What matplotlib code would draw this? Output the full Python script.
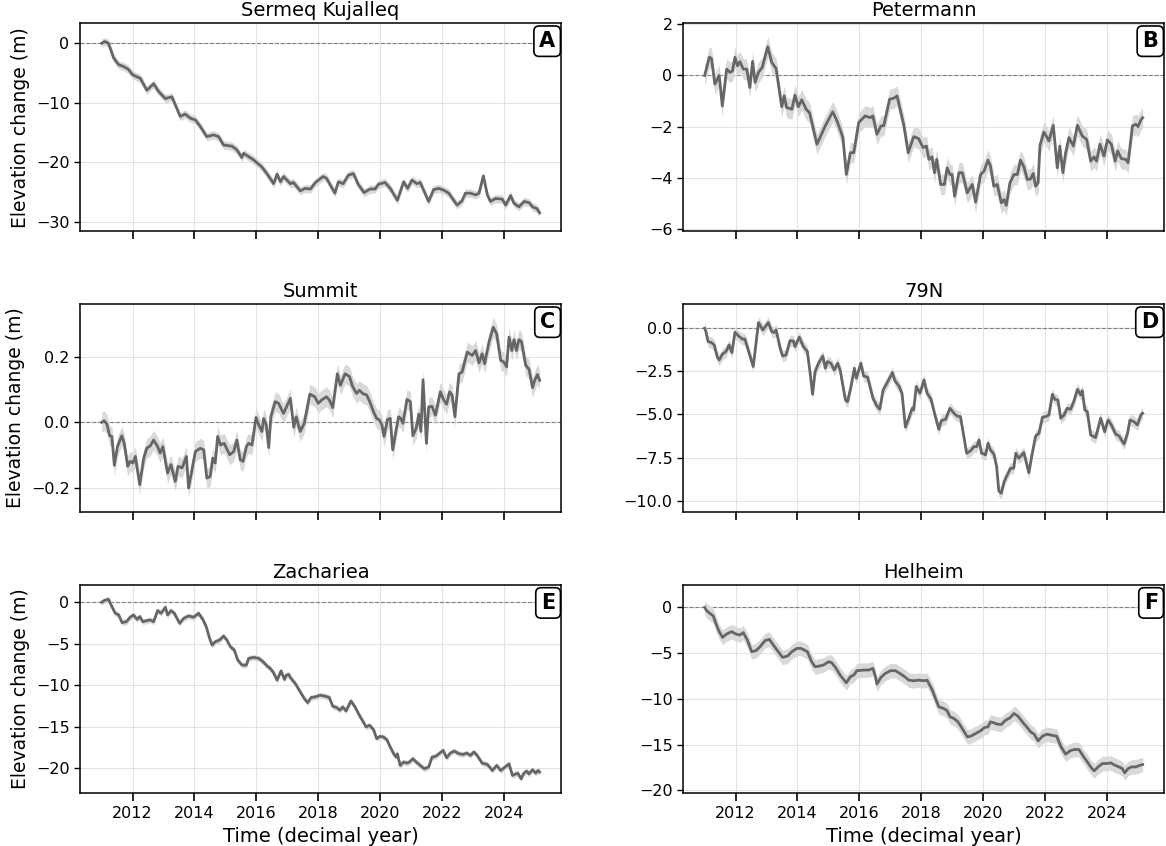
import matplotlib
matplotlib.use("Agg")
import matplotlib.pyplot as plt
import numpy as np

# ---------------- data ----------------
titles = ["Sermeq Kujalleq", "Petermann", "Summit", "79N", "Zachariea", "Helheim"]
letters = ["A", "B", "C", "D", "E", "F"]

t_a = [2011.0, 2011.1, 2011.22, 2011.39, 2011.55, 2011.71, 2011.87, 2012.0, 2012.25, 2012.46,
       2012.68, 2012.84, 2013.06, 2013.27, 2013.54, 2013.7, 2013.87, 2014.03, 2014.19, 2014.4,
       2014.62, 2014.78, 2014.94, 2015.21, 2015.37, 2015.53, 2015.59, 2015.91, 2016.18, 2016.34,
       2016.56, 2016.67, 2016.78, 2016.88, 2017.1, 2017.2, 2017.42, 2017.58, 2017.75, 2017.91,
       2018.16, 2018.27, 2018.54, 2018.65, 2018.81, 2018.97, 2019.14, 2019.3, 2019.35, 2019.48,
       2019.68, 2019.84, 2019.95, 2020.16, 2020.33, 2020.56, 2020.76, 2020.89, 2021.03, 2021.19,
       2021.3, 2021.57, 2021.73, 2021.9, 2022.06, 2022.22, 2022.49, 2022.65, 2022.76, 2022.92,
       2023.09, 2023.2, 2023.34, 2023.47, 2023.57, 2023.73, 2023.95, 2024.06, 2024.22, 2024.33,
       2024.49, 2024.66, 2024.82, 2024.93, 2025.07, 2025.16]
v_a = [0.0, 0.3, 0.0, -2.5, -3.6, -3.9, -4.4, -5.3, -5.9, -7.9,
       -6.8, -8.1, -9.3, -9.0, -12.3, -11.9, -12.6, -12.9, -14.0, -15.7,
       -15.4, -15.7, -17.1, -17.3, -17.9, -19.2, -18.5, -19.6, -20.8, -21.9,
       -23.6, -22.0, -23.3, -22.4, -23.6, -23.4, -24.8, -24.4, -24.5, -23.4,
       -22.4, -22.7, -25.2, -23.3, -23.6, -22.2, -21.9, -23.8, -24.1, -25.1,
       -24.5, -24.5, -23.7, -23.4, -24.4, -26.4, -23.3, -24.4, -23.0, -23.6,
       -23.4, -26.6, -24.6, -24.4, -24.7, -25.2, -27.2, -26.5, -25.2, -25.2,
       -25.5, -25.2, -22.3, -25.5, -26.6, -26.1, -26.2, -27.2, -25.6, -26.9,
       -27.5, -26.6, -26.8, -27.5, -27.8, -28.5]

t_b = [2011.0, 2011.15, 2011.22, 2011.33, 2011.47, 2011.57, 2011.71, 2011.82, 2011.9, 2011.98,
       2012.06, 2012.14, 2012.25, 2012.36, 2012.46, 2012.55, 2012.63, 2012.74, 2012.86, 2013.04,
       2013.17, 2013.31, 2013.36, 2013.49, 2013.57, 2013.65, 2013.82, 2013.92, 2014.03, 2014.14,
       2014.28, 2014.39, 2014.63, 2014.9, 2015.14, 2015.28, 2015.47, 2015.58, 2015.71, 2015.82,
       2015.98, 2016.19, 2016.36, 2016.44, 2016.57, 2016.7, 2016.79, 2016.98, 2017.11, 2017.22,
       2017.44, 2017.58, 2017.76, 2017.92, 2018.06, 2018.17, 2018.25, 2018.35, 2018.43, 2018.5,
       2018.63, 2018.75, 2018.84, 2018.93, 2019.0, 2019.08, 2019.22, 2019.33, 2019.49, 2019.65,
       2019.76, 2019.92, 2020.03, 2020.16, 2020.24, 2020.35, 2020.46, 2020.59, 2020.68, 2020.75,
       2020.87, 2021.0, 2021.11, 2021.21, 2021.32, 2021.43, 2021.54, 2021.62, 2021.7, 2021.78,
       2021.84, 2021.97, 2022.13, 2022.27, 2022.4, 2022.48, 2022.58, 2022.67, 2022.78, 2022.92,
       2023.05, 2023.21, 2023.35, 2023.48, 2023.59, 2023.67, 2023.78, 2023.91, 2024.02, 2024.15,
       2024.27, 2024.35, 2024.47, 2024.61, 2024.69, 2024.83, 2024.94, 2025.01, 2025.1, 2025.16]
v_b = [0.0, 0.71, 0.67, -0.34, 0.0, -1.19, 0.25, 0.12, 0.18, 0.71,
       0.38, 0.54, 0.25, 0.25, -0.47, 0.55, -0.27, 0.12, 0.31, 1.12,
       0.51, 0.27, -0.14, -1.22, -0.8, -1.25, -1.32, -0.77, -1.22, -0.95,
       -1.32, -1.45, -2.69, -1.97, -1.42, -1.78, -2.43, -3.87, -3.02, -3.02,
       -1.84, -1.58, -1.65, -1.58, -2.3, -1.97, -1.97, -0.93, -0.89, -0.8,
       -1.95, -3.02, -2.39, -2.47, -2.82, -2.76, -3.28, -3.18, -3.8, -3.28,
       -4.26, -4.26, -3.61, -3.87, -3.87, -4.72, -3.8, -3.8, -4.59, -4.26,
       -4.95, -3.87, -3.74, -3.31, -3.54, -4.33, -4.26, -4.98, -4.85, -5.08,
       -4.2, -3.87, -3.87, -3.31, -3.57, -4.07, -4.04, -3.83, -4.33, -4.2,
       -2.73, -2.21, -2.56, -1.95, -3.61, -2.76, -3.8, -3.02, -2.43, -2.76,
       -1.95, -2.37, -2.5, -3.35, -3.18, -3.35, -2.69, -3.15, -2.52, -2.69,
       -3.35, -2.95, -3.25, -3.28, -3.41, -1.97, -1.91, -2.0, -1.75, -1.65]

t_c = [2011.0, 2011.08, 2011.17, 2011.26, 2011.33, 2011.41, 2011.51, 2011.65, 2011.73, 2011.84,
       2011.92, 2012.01, 2012.09, 2012.23, 2012.36, 2012.46, 2012.57, 2012.68, 2012.81, 2012.89,
       2012.98, 2013.13, 2013.24, 2013.38, 2013.47, 2013.6, 2013.74, 2013.81, 2013.9, 2014.03,
       2014.19, 2014.3, 2014.4, 2014.51, 2014.59, 2014.67, 2014.75, 2014.84, 2014.96, 2015.14,
       2015.27, 2015.37, 2015.48, 2015.57, 2015.68, 2015.75, 2015.86, 2015.99, 2016.08, 2016.18,
       2016.24, 2016.32, 2016.4, 2016.47, 2016.61, 2016.72, 2016.88, 2017.1, 2017.21, 2017.29,
       2017.42, 2017.55, 2017.73, 2017.89, 2018.0, 2018.11, 2018.27, 2018.36, 2018.47, 2018.62,
       2018.72, 2018.87, 2019.01, 2019.11, 2019.24, 2019.33, 2019.44, 2019.57, 2019.68, 2019.79,
       2019.89, 2019.98, 2020.06, 2020.13, 2020.24, 2020.33, 2020.41, 2020.52, 2020.6, 2020.67,
       2020.74, 2020.87, 2020.98, 2021.06, 2021.17, 2021.25, 2021.32, 2021.39, 2021.5, 2021.57,
       2021.68, 2021.79, 2021.95, 2022.06, 2022.15, 2022.25, 2022.33, 2022.42, 2022.55, 2022.65,
       2022.82, 2022.98, 2023.09, 2023.2, 2023.3, 2023.38, 2023.52, 2023.66, 2023.77, 2023.9,
       2024.0, 2024.09, 2024.17, 2024.26, 2024.33, 2024.41, 2024.49, 2024.57, 2024.71, 2024.82,
       2024.93, 2025.0, 2025.09, 2025.16]
v_c = [0.0, 0.005, -0.005, -0.041, -0.043, -0.131, -0.074, -0.041, -0.064, -0.134,
       -0.119, -0.124, -0.104, -0.19, -0.109, -0.079, -0.072, -0.054, -0.074, -0.094,
       -0.074, -0.155, -0.129, -0.18, -0.134, -0.139, -0.104, -0.2, -0.155, -0.089,
       -0.079, -0.084, -0.17, -0.165, -0.109, -0.124, -0.043, -0.069, -0.064, -0.099,
       -0.089, -0.054, -0.114, -0.119, -0.074, -0.064, -0.069, 0.015, -0.008, -0.028,
       0.012, -0.008, -0.077, 0.017, 0.063, 0.058, 0.027, 0.073, -0.015, 0.017,
       -0.028, -0.003, 0.086, 0.078, 0.058, 0.068, 0.078, 0.068, 0.045, 0.148,
       0.113, 0.148, 0.14, 0.11, 0.088, 0.098, 0.088, 0.083, 0.06, 0.032,
       0.012, 0.007, -0.008, -0.043, 0.009, 0.012, -0.084, -0.023, 0.017, 0.012,
       -0.003, 0.07, 0.063, -0.041, -0.018, 0.025, -0.028, 0.13, -0.064, 0.047,
       0.049, 0.022, 0.093, 0.068, 0.055, 0.093, 0.083, 0.017, 0.148, 0.153,
       0.214, 0.204, 0.219, 0.181, 0.209, 0.179, 0.244, 0.29, 0.27, 0.189,
       0.184, 0.169, 0.26, 0.219, 0.252, 0.219, 0.252, 0.247, 0.174, 0.161,
       0.106, 0.128, 0.146, 0.128]

t_d = [2011.0, 2011.04, 2011.11, 2011.22, 2011.31, 2011.41, 2011.47, 2011.58, 2011.69, 2011.79,
       2011.88, 2011.98, 2012.09, 2012.23, 2012.3, 2012.44, 2012.57, 2012.74, 2012.88, 2013.06,
       2013.17, 2013.24, 2013.31, 2013.44, 2013.52, 2013.63, 2013.76, 2013.87, 2013.92, 2014.06,
       2014.19, 2014.32, 2014.41, 2014.49, 2014.57, 2014.68, 2014.82, 2014.9, 2014.97, 2015.08,
       2015.19, 2015.3, 2015.38, 2015.55, 2015.62, 2015.73, 2015.84, 2015.9, 2016.05, 2016.14,
       2016.27, 2016.36, 2016.44, 2016.57, 2016.66, 2016.77, 2016.92, 2017.07, 2017.15, 2017.28,
       2017.38, 2017.49, 2017.6, 2017.71, 2017.76, 2017.84, 2017.96, 2018.09, 2018.19, 2018.32,
       2018.43, 2018.57, 2018.65, 2018.79, 2018.93, 2019.06, 2019.16, 2019.27, 2019.36, 2019.47,
       2019.6, 2019.7, 2019.79, 2019.87, 2019.95, 2020.03, 2020.08, 2020.16, 2020.24, 2020.35,
       2020.44, 2020.51, 2020.59, 2020.68, 2020.78, 2020.89, 2020.99, 2021.06, 2021.16, 2021.32,
       2021.48, 2021.59, 2021.7, 2021.81, 2021.92, 2022.02, 2022.13, 2022.24, 2022.32, 2022.42,
       2022.51, 2022.62, 2022.72, 2022.83, 2022.94, 2023.05, 2023.16, 2023.21, 2023.29, 2023.37,
       2023.48, 2023.64, 2023.8, 2023.93, 2024.04, 2024.15, 2024.29, 2024.4, 2024.46, 2024.56,
       2024.67, 2024.75, 2024.88, 2024.99, 2025.1, 2025.16]
v_d = [0.0, -0.19, -0.77, -0.83, -0.97, -1.68, -1.84, -1.49, -1.35, -0.97,
       -1.41, -0.23, -0.44, -0.64, -0.62, -1.45, -2.22, 0.33, -0.1, 0.33,
       -0.19, -0.25, -0.1, -1.16, -1.61, -1.55, -0.72, -0.74, -1.06, -0.52,
       -1.06, -1.35, -2.61, -3.83, -2.51, -2.03, -1.61, -2.32, -1.93, -2.03,
       -2.42, -2.03, -2.42, -4.16, -4.26, -3.38, -2.32, -2.9, -2.03, -2.77,
       -2.84, -3.48, -4.06, -4.51, -4.7, -3.58, -3.09, -2.57, -3.04, -3.35,
       -3.77, -5.74, -5.22, -4.64, -4.74, -3.38, -3.77, -3.0, -3.77, -4.12,
       -4.93, -5.86, -5.36, -5.28, -4.64, -4.93, -5.09, -5.13, -6.09, -7.25,
       -7.1, -6.87, -6.87, -6.48, -7.25, -7.29, -7.35, -6.67, -7.06, -7.29,
       -8.03, -9.44, -9.57, -8.9, -8.51, -8.12, -8.12, -7.25, -7.54, -7.21,
       -8.38, -7.25, -6.25, -6.09, -5.16, -5.13, -5.03, -3.83, -4.12, -4.16,
       -5.22, -5.03, -4.64, -4.7, -4.22, -3.54, -3.87, -3.62, -4.74, -4.84,
       -6.19, -6.34, -5.22, -6.0, -5.32, -5.61, -6.15, -6.25, -6.44, -6.71,
       -6.09, -5.32, -5.42, -5.61, -5.03, -4.93]

t_e = [2011.0, 2011.08, 2011.22, 2011.33, 2011.44, 2011.55, 2011.66, 2011.8, 2011.92, 2012.03,
       2012.14, 2012.23, 2012.33, 2012.46, 2012.57, 2012.68, 2012.81, 2012.92, 2013.06, 2013.13,
       2013.24, 2013.35, 2013.52, 2013.65, 2013.81, 2013.97, 2014.13, 2014.27, 2014.38, 2014.49,
       2014.57, 2014.67, 2014.81, 2014.94, 2015.05, 2015.16, 2015.29, 2015.4, 2015.54, 2015.68,
       2015.75, 2015.91, 2016.08, 2016.22, 2016.35, 2016.45, 2016.56, 2016.67, 2016.8, 2016.91,
       2016.97, 2017.05, 2017.12, 2017.26, 2017.42, 2017.55, 2017.66, 2017.77, 2017.91, 2018.07,
       2018.23, 2018.36, 2018.47, 2018.6, 2018.7, 2018.79, 2018.9, 2019.06, 2019.19, 2019.33,
       2019.46, 2019.55, 2019.66, 2019.79, 2019.89, 2020.0, 2020.11, 2020.22, 2020.33, 2020.44,
       2020.52, 2020.56, 2020.65, 2020.76, 2020.87, 2020.95, 2021.06, 2021.17, 2021.3, 2021.43,
       2021.57, 2021.68, 2021.79, 2021.93, 2022.04, 2022.15, 2022.27, 2022.4, 2022.55, 2022.69,
       2022.8, 2022.92, 2023.03, 2023.14, 2023.3, 2023.47, 2023.63, 2023.77, 2023.9, 2024.01,
       2024.17, 2024.28, 2024.35, 2024.45, 2024.56, 2024.65, 2024.74, 2024.81, 2024.93, 2025.03,
       2025.11, 2025.16]
v_e = [0.0, 0.2, 0.36, -0.52, -1.33, -1.53, -2.46, -2.34, -1.81, -1.53,
       -2.06, -1.73, -2.34, -2.22, -2.14, -2.34, -1.01, -1.33, -0.6, -1.53,
       -1.01, -1.33, -2.54, -1.94, -1.65, -1.81, -1.33, -2.06, -2.94, -4.35,
       -5.16, -4.76, -4.56, -4.07, -4.56, -5.36, -5.77, -6.98, -7.58, -7.58,
       -6.77, -6.65, -6.77, -7.18, -7.7, -7.98, -8.51, -9.4, -8.27, -9.31,
       -8.79, -8.71, -9.19, -9.8, -10.81, -11.61, -12.1, -11.49, -11.41, -11.21,
       -11.33, -11.49, -12.54, -12.7, -13.02, -12.62, -13.1, -11.9, -12.62, -13.63,
       -14.44, -15.04, -14.84, -15.36, -16.45, -16.17, -16.25, -16.57, -17.46, -18.27,
       -18.67, -18.27, -19.68, -19.27, -19.4, -19.27, -18.87, -19.27, -19.68, -20.08,
       -19.88, -18.67, -18.59, -18.19, -17.86, -18.75, -18.19, -17.94, -18.27, -18.35,
       -18.19, -18.47, -18.06, -18.47, -19.4, -19.56, -20.28, -19.68, -20.28, -19.96,
       -19.48, -20.89, -20.77, -20.6, -21.29, -20.6, -20.36, -20.69, -20.2, -20.6,
       -20.28, -20.48]

t_f = [2011.0, 2011.06, 2011.17, 2011.28, 2011.38, 2011.47, 2011.58, 2011.71, 2011.87, 2012.01,
       2012.14, 2012.25, 2012.38, 2012.52, 2012.66, 2012.79, 2012.95, 2013.09, 2013.22, 2013.38,
       2013.52, 2013.68, 2013.82, 2013.98, 2014.11, 2014.22, 2014.32, 2014.46, 2014.57, 2014.71,
       2014.84, 2015.01, 2015.11, 2015.25, 2015.38, 2015.58, 2015.71, 2015.82, 2015.92, 2016.14,
       2016.3, 2016.44, 2016.52, 2016.57, 2016.7, 2016.84, 2017.01, 2017.17, 2017.31, 2017.44,
       2017.6, 2017.76, 2017.92, 2018.09, 2018.19, 2018.36, 2018.46, 2018.57, 2018.73, 2018.84,
       2018.93, 2019.06, 2019.19, 2019.36, 2019.49, 2019.6, 2019.76, 2019.92, 2020.05, 2020.16,
       2020.24, 2020.35, 2020.46, 2020.59, 2020.73, 2020.87, 2021.0, 2021.13, 2021.27, 2021.41,
       2021.54, 2021.65, 2021.78, 2021.92, 2022.06, 2022.21, 2022.38, 2022.51, 2022.67, 2022.81,
       2022.94, 2023.1, 2023.24, 2023.37, 2023.48, 2023.59, 2023.72, 2023.86, 2024.0, 2024.13,
       2024.26, 2024.4, 2024.5, 2024.58, 2024.69, 2024.8, 2024.94, 2025.08, 2025.16]
v_f = [0.0, -0.36, -0.66, -0.95, -1.93, -2.66, -3.28, -2.92, -2.66, -2.92,
       -3.03, -2.77, -3.58, -4.85, -4.74, -4.31, -3.65, -3.5, -4.12, -4.85,
       -5.47, -5.33, -4.85, -4.49, -4.49, -4.67, -4.85, -5.95, -6.5, -6.42,
       -6.31, -5.95, -6.06, -6.68, -7.41, -8.25, -7.59, -7.41, -6.93, -6.86,
       -6.86, -6.68, -7.59, -8.39, -7.66, -7.23, -6.93, -6.93, -7.23, -7.52,
       -7.96, -8.03, -7.96, -8.03, -7.96, -9.05, -9.96, -10.88, -11.06, -11.31,
       -11.97, -12.15, -12.52, -13.43, -14.16, -14.09, -13.8, -13.5, -13.14, -13.07,
       -12.52, -12.63, -12.77, -12.81, -12.34, -12.08, -11.61, -11.9, -12.52, -13.07,
       -13.61, -13.87, -14.6, -14.09, -13.87, -13.98, -14.09, -15.18, -16.06, -15.69,
       -15.55, -15.55, -16.28, -16.9, -17.45, -17.88, -17.45, -17.08, -17.08, -17.01,
       -17.26, -17.45, -17.63, -18.1, -17.63, -17.45, -17.45, -17.26, -17.19]

# half-width of the uncertainty band of each series
unc = [0.7, 0.4, 0.03, 0.33, 0.35, 0.8]

times = [t_a, t_b, t_c, t_d, t_e, t_f]
values = [v_a, v_b, v_c, v_d, v_e, v_f]
ylims = [(-31.56, 3.36), (-6.08, 2.04), (-0.2725, 0.36), (-10.64, 1.39), (-23.0, 2.08), (-20.3, 2.44)]
xticks = [2012, 2014, 2016, 2018, 2020, 2022, 2024]

# ---------------- figure ----------------
fig = plt.figure(figsize=(11.66, 8.46), dpi=100)
W, H = 1166.0, 846.0
col_x = [80, 683]
row_y = [(23.3, 231), (304.3, 511.7), (585, 793)]
axw = 481

line_c = "#666666"
band_c = "#d9d9d9"

for i in range(6):
    r, c = divmod(i, 2)
    top, bot = row_y[r]
    ax = fig.add_axes([col_x[c] / W, 1 - bot / H, axw / W, (bot - top) / H])
    t = np.array(times[i])
    v = np.array(values[i])
    u = unc[i]
    ax.fill_between(t, v - u, v + u, color=band_c, lw=0, zorder=2)
    ax.plot(t, v, color=line_c, lw=2.0, zorder=3)
    ax.axhline(0, color="#808080", lw=0.8, ls="--", zorder=1)
    ax.set_xlim(2010.3, 2025.85)
    ax.set_ylim(*ylims[i])
    ax.set_xticks(xticks)
    ax.grid(True, color="#e3e3e3", lw=0.8, zorder=0)
    ax.set_axisbelow(True)
    for s in ax.spines.values():
        s.set_linewidth(1.1)
        s.set_color("black")
    ax.tick_params(axis="x", direction="out", length=6, width=1.2, labelsize=11.5)
    ax.tick_params(axis="y", direction="out", length=4, width=1.0, labelsize=11.5)
    if r < 2:
        ax.tick_params(axis="x", labelbottom=False)
    else:
        ax.set_xlabel("Time (decimal year)", fontsize=14)
    if c == 0:
        ax.set_ylabel("Elevation change (m)", fontsize=13.5)
    ax.set_title(titles[i], fontsize=14, pad=5)
    ax.text(0.988, 0.962, letters[i], transform=ax.transAxes, ha="right", va="top",
            fontsize=15, fontweight="bold", zorder=5,
            bbox=dict(boxstyle="round,pad=0.25", fc="white", ec="black", lw=1.2))

fig.savefig("out.png", dpi=100)
